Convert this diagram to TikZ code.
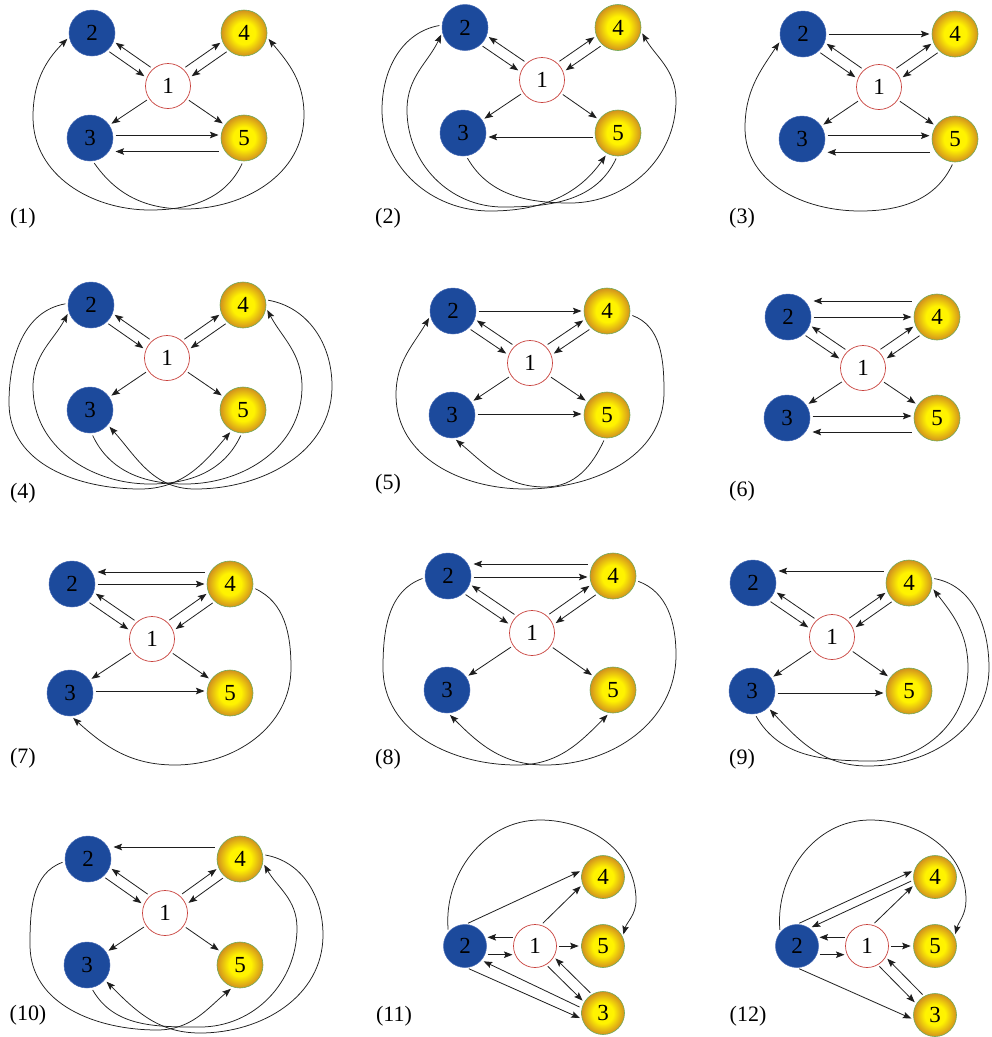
\documentclass[tikz,border=0pt]{standalone}
\usepackage{fontspec}
\setmainfont{Liberation Serif}
\usetikzlibrary{arrows.meta,calc}
\definecolor{nb}{RGB}{28,74,156}
\definecolor{nbd}{RGB}{70,105,180}
\definecolor{yc}{RGB}{255,243,0}
\definecolor{yo}{RGB}{210,145,30}
\definecolor{ng}{RGB}{110,170,90}
\definecolor{nr}{RGB}{200,65,60}
\definecolor{lk}{RGB}{30,30,30}
\pgfdeclareradialshading{ball}{\pgfpoint{0bp}{0bp}}{color(0bp)=(yc); color(12bp)=(yc); color(25bp)=(yo); color(50bp)=(yo)}
\tikzset{
  base/.style={circle, inner sep=0pt, minimum size=46pt, font=\fontsize{23}{23}\selectfont, text=black},
  bn/.style={base, fill=nb, draw=nbd, line width=0.5pt},
  yn/.style={base, shading=ball, draw=ng, line width=0.6pt},
  wn/.style={base, minimum size=45pt, fill=white, draw=nr, line width=0.7pt},
  smalln/.style={minimum size=43pt},
  arh/.style={draw=lk, line width=0.8pt, -{Stealth[length=8.5pt,width=6.5pt,inset=1.5pt]}},
  ar/.style={arh, shorten >=2.5pt, shorten <=2.5pt},
  cv/.style={arh, line width=0.75pt, shorten >=2.5pt, shorten <=2.5pt},
  lab/.style={font=\fontsize{22}{22}\selectfont, inner sep=0pt}
}
\newcommand\mydpair[5][25pt]{%
 \draw[arh, shorten <=#1, shorten >=#1] ($(#2.center)!5.5pt!#4:(#3.center)$) -- ($(#3.center)!5.5pt!#5:(#2.center)$);
 \draw[arh, shorten <=#1, shorten >=#1] ($(#3.center)!5.5pt!#4:(#2.center)$) -- ($(#2.center)!5.5pt!#5:(#3.center)$);}
\newcommand\myhlr[4][25.5]{\draw[arh] ($(#2.center)+(#1,#4)$) -- ($(#3.center)+(-#1,#4)$);}
\newcommand\myhrl[4][25.5]{\draw[arh] ($(#2.center)+(-#1,#4)$) -- ($(#3.center)+(#1,#4)$);}
\newcommand\panelfive[6]{%
 \node[wn] (#11) at (#2) {1};
 \node[bn] (#12) at (#3) {2};
 \node[bn] (#13) at (#4) {3};
 \node[yn] (#14) at (#5) {4};
 \node[yn] (#15) at (#6) {5};
 \mydpair{#11}{#12}{-90}{90}
 \mydpair{#11}{#14}{90}{-90}
 \draw[ar] (#11) -- (#13);
 \draw[ar] (#11) -- (#15);}
\begin{document}
\begin{tikzpicture}[x=1pt,y=1pt]
\fill[white] (0,0) rectangle (992,-1037);
\useasboundingbox (0,0) rectangle (992,-1037);

% ---------- panel 1
\panelfive{A}{168,-86}{92,-33}{90,-138}{244,-33}{244,-138}
\myhlr{A3}{A5}{3}
\myhrl{A5}{A3}{-13.5}
\draw[cv] (A3.-83) to[out=-55,in=180] (185,-209) to[out=0,in=-90] (304,-115) to[out=90,in=-50] (A4.-10);
\draw[cv] (A5.-92) to[out=-115,in=0] (150,-210) to[out=180,in=-90] (33,-117) to[out=90,in=-135] (A2.190);
\node[lab] (T1) at (23,-218) {(1)};

% ---------- panel 2
\panelfive{B}{542,-80}{465,-27.5}{463,-133}{618,-27.5}{618,-133}
\myhrl{B5}{B3}{-4}
\draw[cv] (B2.174) to[out=190,in=90] (382,-110) to[out=-90,in=180] (490,-211) to[out=0,in=-125] (B5.-118);
\draw[cv] (B5.-92) to[out=-115,in=0] (503,-207) to[out=180,in=-90] (407,-110) to[out=90,in=-115] (B2.192);
\draw[cv] (B3.-82) to[out=-60,in=180] (570,-203) to[out=0,in=-90] (676,-100) to[out=90,in=-60] (B4.-9);
\node[lab] (T2) at (388,-218) {(2)};

% ---------- panel 3
\panelfive{C}{879,-87}{803,-34}{802,-139}{955,-34}{955,-139}
\myhlr{C2}{C4}{0}
\myhlr{C3}{C5}{3.3}
\myhrl{C5}{C3}{-13.3}
\draw[cv] (C5.-94) to[out=-115,in=0] (860,-211) to[out=180,in=-90] (745,-128) to[out=90,in=-124] (C2.196);
\node[lab] (T3) at (742,-218) {(3)};

% ---------- panel 4
\panelfive{D}{167,-358}{91,-305}{90,-410}{243,-305}{243,-410}
\draw[cv] (D2.176) to[out=190,in=90] (9,-403) to[out=-90,in=180] (140,-489) to[out=0,in=-130] (D5.-119);
\draw[cv] (D5.-93) to[out=-115,in=0] (150,-484) to[out=180,in=-90] (33,-387) to[out=90,in=-118] (D2.197);
\draw[cv] (D4.13) to[out=-10,in=90] (332,-386) to[out=-90,in=0] (195,-489) to[out=180,in=-48] (D3.-40);
\draw[cv] (D3.-86) to[out=-65,in=180] (185,-484) to[out=0,in=-90] (302,-387) to[out=90,in=-62] (D4.-7);
\node[lab] (T4) at (23,-493) {(4)};

% ---------- panel 5
\panelfive{E}{530,-363}{453,-311}{452,-415}{607,-311}{607,-415}
\myhlr{E2}{E4}{0}
\myhlr{E3}{E5}{1}
\draw[cv] (E4.-9) to[out=-20,in=90] (664,-392) to[out=-90,in=0] (525,-489) to[out=180,in=-90] (396,-395) to[out=90,in=-120] (E2.192);
\draw[cv] (E5.-95) to[out=-115,in=0] (545,-487) to[out=180,in=-40] (E3.-85);
\node[lab] (T5) at (388,-484) {(5)};

% ---------- panel 6
\panelfive{F}{863,-368}{788,-317}{787,-418}{937,-317}{937,-418}
\myhrl{F4}{F2}{16}
\myhlr{F2}{F4}{0}
\myhlr{F3}{F5}{2}
\myhrl{F5}{F3}{-14}
\node[lab] (T6) at (742,-491) {(6)};

% ---------- panel 7
\panelfive{G}{152,-639}{72,-584}{70,-693}{230,-584}{230,-693}
\myhrl{G4}{G2}{12}
\myhlr{G2}{G4}{0}
\myhlr{G3}{G5}{2}
\draw[cv] (G4.-9) to[out=-25,in=90] (291,-668) to[out=-90,in=0] (175,-765) to[out=180,in=-42] (G3.-87);
\node[lab] (T7) at (23,-758) {(7)};

% ---------- panel 8
\panelfive{H}{532,-633}{448,-576}{447,-690}{613,-576}{613,-690}
\myhrl{H4}{H2}{12}
\myhlr{H2}{H4}{-1}
\draw[cv] (H2.184) to[out=200,in=90] (383,-668) to[out=-90,in=180] (517,-765) to[out=0,in=-135] (H5.-99);
\draw[cv] (H4.-11) to[out=-20,in=90] (676,-655) to[out=-90,in=0] (545,-765) to[out=180,in=-45] (H3.-87);
\node[lab] (T8) at (388,-759) {(8)};

% ---------- panel 9
\panelfive{I}{832,-637}{753,-583}{752,-691}{909,-583}{909,-691}
\myhrl{I4}{I2}{12}
\myhlr{I3}{I5}{-2}
\draw[cv] (I3.-83) to[out=-60,in=180] (872,-761) to[out=0,in=-90] (968,-668) to[out=90,in=-52] (I4.-11);
\draw[cv] (I4.12) to[out=-10,in=90] (989,-668) to[out=-90,in=0] (868,-766) to[out=180,in=-47] (I3.-46);
\node[lab] (T9) at (742,-759) {(9)};

% ---------- panel 10
\panelfive{J}{165,-913}{88,-859}{87,-965}{240,-859}{240,-965}
\myhrl{J4}{J2}{12}
\draw[cv] (J2.186) to[out=200,in=90] (30,-945) to[out=-90,in=180] (157,-1030) to[out=0,in=-140] (J5.-108);
\draw[cv] (J3.-79) to[out=-60,in=180] (200,-1027) to[out=0,in=-90] (297,-928) to[out=90,in=-60] (J4.-9);
\draw[cv] (J4.11) to[out=-10,in=90] (323,-935) to[out=-90,in=0] (200,-1033) to[out=180,in=-45] (J3.-40);
\node[lab] (T10) at (28,-1015) {(10)};

% ---------- panel 11
\node[wn,smalln] (K1) at (535,-946) {1};
\node[bn,smalln] (K2) at (465,-946) {2};
\node[yn,smalln] (K3) at (603,-1013) {3};
\node[yn,smalln] (K4) at (603,-877) {4};
\node[yn,smalln] (K5) at (603,-946) {5};
\draw[ar] (K2.88) -- (K4.162);
\draw[ar] (K1.74) -- (K4.200);
\myhrl[22.5]{K1}{K2}{8.7}
\myhlr[22.5]{K2}{K1}{-8.7}
\draw[ar] (K1) -- (K5);
\mydpair[23.3pt]{K1}{K3}{-90}{90}
\draw[ar] (K2.-86) -- (K3.196);
\draw[ar] (K3.167) -- (K2.-41);
\draw[cv] (K2.140) to[out=95,in=180] (540,-820) to[out=0,in=90] (636,-900) to[out=-90,in=75] (K5.25);
\node[lab] (T11) at (394,-1016) {(11)};

% ---------- panel 12
\node[wn,smalln] (L1) at (867,-946) {1};
\node[bn,smalln] (L2) at (797,-946) {2};
\node[yn,smalln] (L3) at (935,-1015) {3};
\node[yn,smalln] (L4) at (935,-877) {4};
\node[yn,smalln] (L5) at (935,-946) {5};
\draw[ar] (L2.90) -- (L4.162);
\draw[ar] (L4.188) -- (L2.55);
\draw[ar] (L1.75) -- (L4.200);
\myhrl[22.5]{L1}{L2}{8.7}
\myhlr[22.5]{L2}{L1}{-8.7}
\draw[ar] (L1) -- (L5);
\mydpair[23.3pt]{L1}{L3}{-90}{90}
\draw[ar] (L2.-90) -- (L3.192);
\draw[cv] (L2.141) to[out=95,in=180] (870,-820) to[out=0,in=90] (966,-900) to[out=-90,in=75] (L5.26);
\node[lab] (T12) at (748,-1016) {(12)};
\end{tikzpicture}
\end{document}
